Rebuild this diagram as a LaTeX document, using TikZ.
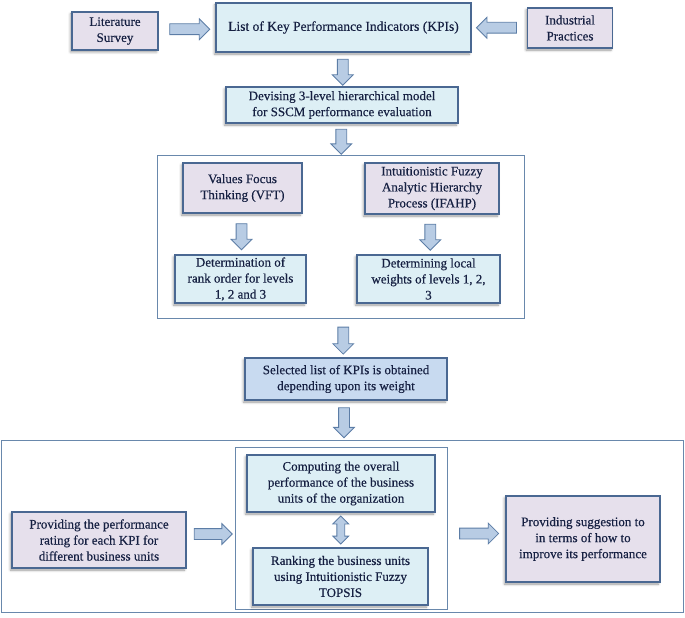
\documentclass[tikz,border=0pt]{standalone}
\usepackage{fontspec}
\setmainfont{Liberation Serif}[FakeBold=0.4]
\usetikzlibrary{shapes.arrows}
\usetikzlibrary{shadows.blur}
\usetikzlibrary{calc}
\usetikzlibrary{positioning}

\definecolor{boxline}{RGB}{74,104,146}
\definecolor{frameline}{RGB}{105,136,172}
\definecolor{boxtext}{RGB}{22,32,66}
\definecolor{cyanfill}{RGB}{221,239,245}
\definecolor{lavfill}{RGB}{230,224,236}
\definecolor{selfill}{RGB}{200,218,240}
\definecolor{arrowfill}{RGB}{184,204,228}
\definecolor{arrowline}{RGB}{92,125,166}

\begin{document}
\begin{tikzpicture}[x=1pt,y=1pt,
    box/.style={draw=boxline, line width=1.3pt, text=boxtext, align=center,
        font=\fontsize{13}{16}\selectfont, inner sep=2pt,
        blur shadow={shadow xshift=-1.5pt, shadow yshift=-2pt,
                     shadow blur radius=2.5pt, shadow opacity=40}},
    cyanbox/.style={box, fill=cyanfill},
    lavbox/.style={box, fill=lavfill},
    frame/.style={draw=frameline, line width=1pt, inner sep=0pt},
    barrow/.style={single arrow, draw=arrowline, fill=arrowfill, line width=0.8pt,
        inner xsep=0pt, inner ysep=5pt, single arrow head extend=5pt,
        minimum height=#1}]
\useasboundingbox (0,0) rectangle (685,-618);

% frames
\begin{scope}[every node/.style={frame}]
    \node[minimum width=367, minimum height=163] (grp1) at (340.5,-236.5) {};
    \node[minimum width=682, minimum height=172] (grp2) at (342,-526) {};
    \node[minimum width=212, minimum height=162] (inner) at (341,-528) {};
\end{scope}

\begin{scope}[every node/.style={lavbox}]
    \node[minimum width=86, minimum height=38] (lit) at (115,-31) {Literature\\Survey};
    \node[minimum width=85, minimum height=40] (ind) at (570,-28) {Industrial\\Practices};
    \node[minimum width=119, minimum height=50] (vft) at (242.5,-188) {Values Focus\\Thinking (VFT)};
    \node[minimum width=134, minimum height=51] (ifahp) at (432,-188.5) {Intuitionistic Fuzzy\\Analytic Hierarchy\\Process (IFAHP)};
    \node[minimum width=174, minimum height=56] (prov) at (99,-540) {Providing the performance\\rating for each KPI for\\different business units};
    \node[minimum width=154, minimum height=86] (sugg) at (583,-539) {Providing suggestion to\\in terms of how to\\improve its performance};
\end{scope}

\begin{scope}[every node/.style={cyanbox}]
    \node[minimum width=255, minimum height=49, font=\fontsize{13.5}{16}\selectfont] (kpi) at (343.5,-27.5) {List of Key Performance Indicators (KPIs)};
    \node[minimum width=232, minimum height=36] (dev) at (342,-105) {Devising 3-level hierarchical model\\for SSCM performance evaluation};
    \node[minimum width=131, minimum height=48] (rank) at (240.5,-279) {Determination of\\rank order for levels\\1, 2 and 3};
    \node[minimum width=143, minimum height=48] (wts) at (428.5,-279) {Determining local\\weights of levels 1, 2,\\3};
    \node[minimum width=188, minimum height=57] (comp) at (341,-483.5) {Computing the overall\\performance of the business\\units of the organization};
    \node[minimum width=175, minimum height=57] (ranking) at (340.5,-576.5) {Ranking the business units\\using Intuitionistic Fuzzy\\TOPSIS};
    \node[fill=selfill, minimum width=202, minimum height=42] (sel) at (346,-379) {Selected list of KPIs is obtained\\depending upon its weight};
\end{scope}

% block arrows
\node[barrow=40pt] (lit-kpi) at ($(lit.east)!.5!(kpi.west)$) {};
\node[barrow=40pt, rotate=180] (ind-kpi) at ($(ind.west)!.5!(kpi.east)$) {};
\node[barrow=38pt] (prov-inner) at ($(prov.east)!.5!(inner.west)$) {};
\node[barrow=39pt] (inner-sugg) at ($(inner.east)!.5!(sugg.west)$) {};
\foreach \u/\v/\len in {kpi/dev/26, dev/grp1/25, vft/rank/26, ifahp/wts/26,
                        grp1/sel/27, sel/grp2/30}
    \node[barrow=\len pt, rotate=-90] (\u-\v) at ($(\u.south)!.5!(\v.north)$) {};
\node[double arrow, draw=arrowline, fill=arrowfill, line width=0.8pt,
      inner xsep=0pt, inner ysep=3.5pt, double arrow head extend=4pt,
      minimum height=28pt, rotate=90] (comp-ranking) at ($(comp.south)!.5!(ranking.north)$) {};
\end{tikzpicture}
\end{document}
